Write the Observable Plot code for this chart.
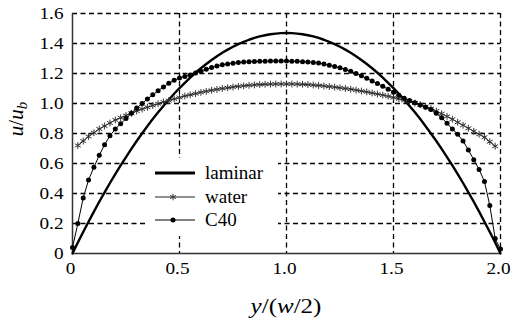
<!DOCTYPE html>
<html><head><meta charset="utf-8">
<script src="https://cdn.jsdelivr.net/npm/d3@7"></script>
<script src="https://cdn.jsdelivr.net/npm/@observablehq/plot@0.6"></script>
<style>
body{margin:0;background:#fff;}
#wrap{position:relative;width:511px;height:324px;}
#legend{position:absolute;left:148px;top:158px;width:130px;height:78px;background:#fff;}
.lgt{position:absolute;left:57px;font-family:'Liberation Serif',serif;font-size:19px;line-height:19px;color:#000;}
</style></head><body>
<div id="wrap"><div id="chart"></div><div id="legend"></div></div>
<script>
// wall-normal position y/(w/2)
const positions = [0,0.025,0.05,0.075,0.1,0.125,0.15,0.175,0.2,0.225,0.25,0.275,0.3,0.325,0.35,0.375,0.4,0.425,0.45,0.475,0.5,0.525,0.55,0.575,0.6,0.625,0.65,0.675,0.7,0.725,0.75,0.775,0.8,0.825,0.85,0.875,0.9,0.925,0.95,0.975,1,1.025,1.05,1.075,1.1,1.125,1.15,1.175,1.2,1.225,1.25,1.275,1.3,1.325,1.35,1.375,1.4,1.425,1.45,1.475,1.5,1.525,1.55,1.575,1.6,1.625,1.65,1.675,1.7,1.725,1.75,1.775,1.8,1.825,1.85,1.875,1.9,1.925,1.95,1.975,2];
// u/u_b
const laminar = [0,0.073,0.143,0.212,0.279,0.345,0.408,0.470,0.529,0.587,0.643,0.697,0.750,0.800,0.849,0.896,0.941,0.984,1.025,1.065,1.103,1.138,1.172,1.205,1.235,1.263,1.290,1.315,1.338,1.359,1.378,1.396,1.411,1.425,1.437,1.447,1.455,1.462,1.466,1.469,1.470,
  1.469,1.466,1.462,1.455,1.447,1.437,1.425,1.411,1.396,1.378,1.359,1.338,1.315,1.290,1.263,1.235,1.205,1.172,1.138,1.103,1.065,1.025,0.984,0.941,0.896,0.849,0.800,0.750,0.697,0.643,0.587,0.529,0.470,0.408,0.345,0.279,0.212,0.143,0.073,0];
const water = [null,0.72,0.75,0.78,0.805,0.83,0.85,0.87,0.89,0.905,0.92,0.935,0.95,0.963,0.975,0.987,0.998,1.01,1.02,1.03,1.04,1.05,1.058,1.066,1.074,1.081,1.088,1.094,1.1,1.105,1.11,1.114,1.118,1.121,1.124,1.126,1.128,1.129,1.13,1.13,1.13,
  1.13,1.129,1.128,1.126,1.123,1.12,1.117,1.113,1.109,1.105,1.1,1.095,1.089,1.083,1.077,1.07,1.063,1.056,1.048,1.04,1.031,1.022,1.013,1.003,0.992,0.98,0.966,0.95,0.932,0.914,0.895,0.875,0.855,0.835,0.815,0.795,0.775,0.745,0.715,null];
const c40 = [0.04,0.2,0.37,0.49,0.575,0.655,0.725,0.785,0.83,0.865,0.90,0.935,0.97,1.00,1.03,1.058,1.085,1.11,1.135,1.155,1.17,1.18,1.19,1.203,1.215,1.228,1.24,1.25,1.258,1.264,1.269,1.273,1.276,1.278,1.28,1.281,1.282,1.283,1.283,1.283,1.283,
  1.282,1.281,1.279,1.277,1.274,1.27,1.263,1.255,1.247,1.238,1.227,1.215,1.2,1.185,1.168,1.15,1.133,1.115,1.095,1.075,1.055,1.035,1.02,1.005,0.99,0.975,0.96,0.935,0.905,0.868,0.83,0.795,0.75,0.69,0.625,0.56,0.48,0.32,0.10,0.03];

const seriesNames = ["laminar","water","C40"];
const xTicks = [0,0.5,1,1.5,2];
const xTickLabels = ["0","0.5","1.0","1.5","2.0"];
const yTicks = [0,0.2,0.4,0.6,0.8,1.0,1.2,1.4,1.6];
const yTickLabels = ["0","0.2","0.4","0.6","0.8","1.0","1.2","1.4","1.6"];

const rows = positions.map((x, i) => ({x, laminar: laminar[i], water: water[i], c40: c40[i]}));
const waterRows = rows.filter(d => d.water != null);

const gridStyle = {stroke: "#000", strokeOpacity: 1, strokeWidth: 1.3, strokeDasharray: "5,3.5"};

const chart = Plot.plot({
  width: 511, height: 324,
  marginLeft: 72, marginRight: 11, marginTop: 13, marginBottom: 71,
  x: {domain: [0, 2]},
  y: {domain: [0, 1.6]},
  style: {fontFamily: "'Liberation Serif', serif", fontSize: "16px", color: "#000", background: "#fff"},
  marks: [
    Plot.gridX(xTicks.filter(d => d > 0), gridStyle),
    Plot.gridY(yTicks.filter(d => d > 0), gridStyle),
    Plot.ruleX([0], {stroke: "#333", strokeWidth: 1.5}),
    Plot.ruleY([0], {stroke: "#333", strokeWidth: 1.5}),
    Plot.line(rows, {x: "x", y: "laminar", stroke: "#000", strokeWidth: 2.4}),
    Plot.line(waterRows, {x: "x", y: "water", stroke: "#222", strokeWidth: 1}),
    Plot.dot(waterRows, {x: "x", y: "water", symbol: "asterisk", r: 3.2, stroke: "#333", fill: "none", strokeWidth: 1}),
    Plot.line(rows, {x: "x", y: "c40", stroke: "#000", strokeWidth: 1}),
    Plot.dot(rows, {x: "x", y: "c40", r: 2.5, fill: "#000", stroke: "none"}),
    Plot.axisX({ticks: xTicks, tickFormat: d => xTickLabels[xTicks.indexOf(d)], tickSize: 0, tickPadding: 9, dx: -2, label: null, fontFamily: "Liberation Serif"}),
    Plot.axisY({ticks: yTicks, tickFormat: d => yTickLabels[yTicks.indexOf(d)], tickSize: 0, tickPadding: 9, label: null, fontFamily: "Liberation Serif"})
  ]
});
document.getElementById("chart").appendChild(chart);

const svg = d3.select(chart);
// widen tick labels about their own anchors, as in the reference typesetting
svg.selectAll('[aria-label$="tick label"] text').each(function() {
  const t = d3.select(this);
  const tr = t.attr("transform") || "";
  t.attr("transform", `${tr} scale(1.2,1)`);
});

// x axis label
const xl = svg.append("text")
  .attr("transform", "translate(286,313) scale(1.25,1)")
  .attr("text-anchor", "middle").attr("font-family", "Liberation Serif").attr("font-size", 20).attr("fill", "#000");
xl.append("tspan").attr("font-style", "italic").text("y");
xl.append("tspan").text("/(");
xl.append("tspan").attr("font-style", "italic").text("w");
xl.append("tspan").text("/2)");

// y axis label
const yl = svg.append("text")
  .attr("transform", "translate(23,119) rotate(-90)")
  .attr("text-anchor", "middle").attr("font-family", "Liberation Serif").attr("font-size", 21).attr("fill", "#000");
yl.append("tspan").attr("font-style", "italic").text("u");
yl.append("tspan").text("/");
yl.append("tspan").attr("font-style", "italic").text("u");
yl.append("tspan").attr("font-style", "italic").attr("font-size", 15).attr("dy", 4).text("b");

// legend: symbols in svg, names as html text
const legend = d3.select("#legend");
const lg = legend.append("svg").attr("width", 130).attr("height", 78).style("position", "absolute").style("left", 0).style("top", 0);
const rowsY = [15, 39, 62];
lg.append("line").attr("x1", 7).attr("x2", 47).attr("y1", rowsY[0]).attr("y2", rowsY[0]).attr("stroke", "#000").attr("stroke-width", 3);
lg.append("line").attr("x1", 7).attr("x2", 47).attr("y1", rowsY[1]).attr("y2", rowsY[1]).attr("stroke", "#222").attr("stroke-width", 1);
lg.append("path").attr("d", d3.symbol(d3.symbolAsterisk, 30)()).attr("transform", `translate(25,${rowsY[1]})`).attr("stroke", "#333").attr("fill", "none").attr("stroke-width", 1);
lg.append("line").attr("x1", 7).attr("x2", 47).attr("y1", rowsY[2]).attr("y2", rowsY[2]).attr("stroke", "#000").attr("stroke-width", 1);
lg.append("circle").attr("cx", 25).attr("cy", rowsY[2]).attr("r", 2.5).attr("fill", "#000");
seriesNames.forEach((name, i) => {
  legend.append("div").attr("class", "lgt").style("top", (rowsY[i] - 10) + "px").text(name);
});
</script>
</body></html>
